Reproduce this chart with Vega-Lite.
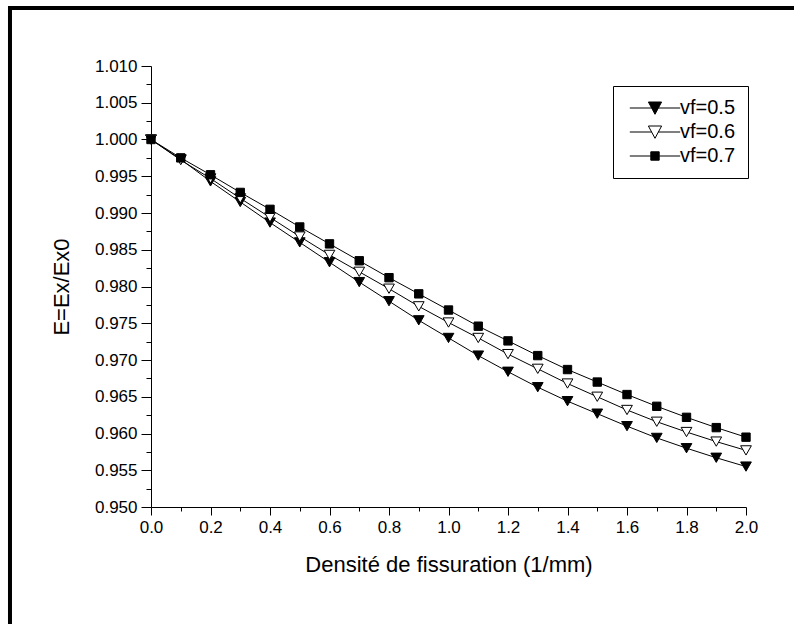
{
  "$schema": "https://vega.github.io/schema/vega-lite/v6.json",
  "autosize": "none",
  "width": 595,
  "height": 441,
  "padding": {"left": 151, "top": 66, "right": 48, "bottom": 117},
  "background": "white",
  "config": {
    "view": {"stroke": null},
    "font": "Liberation Sans",
    "legend": {
      "title": null,
      "strokeColor": "black",
      "fillColor": "white",
      "padding": 12,
      "rowPadding": 4,
      "symbolSize": 144,
      "symbolOffset": 20,
      "symbolStrokeWidth": 1,
      "symbolOpacity": 1,
      "labelOffset": 15,
      "labelFontSize": 20,
      "labelColor": "black",
      "labelFont": "Liberation Sans"
    }
  },
  "datasets": {
    "curves": [
      {"d": 0.0, "E": 1.0000, "s": "vf=0.5"},
      {"d": 0.1, "E": 0.9973, "s": "vf=0.5"},
      {"d": 0.2, "E": 0.9943, "s": "vf=0.5"},
      {"d": 0.3, "E": 0.9915, "s": "vf=0.5"},
      {"d": 0.4, "E": 0.9887, "s": "vf=0.5"},
      {"d": 0.5, "E": 0.9860, "s": "vf=0.5"},
      {"d": 0.6, "E": 0.9833, "s": "vf=0.5"},
      {"d": 0.7, "E": 0.9806, "s": "vf=0.5"},
      {"d": 0.8, "E": 0.9780, "s": "vf=0.5"},
      {"d": 0.9, "E": 0.9754, "s": "vf=0.5"},
      {"d": 1.0, "E": 0.9730, "s": "vf=0.5"},
      {"d": 1.1, "E": 0.9706, "s": "vf=0.5"},
      {"d": 1.2, "E": 0.9684, "s": "vf=0.5"},
      {"d": 1.3, "E": 0.9663, "s": "vf=0.5"},
      {"d": 1.4, "E": 0.9644, "s": "vf=0.5"},
      {"d": 1.5, "E": 0.9627, "s": "vf=0.5"},
      {"d": 1.6, "E": 0.9610, "s": "vf=0.5"},
      {"d": 1.7, "E": 0.9594, "s": "vf=0.5"},
      {"d": 1.8, "E": 0.9580, "s": "vf=0.5"},
      {"d": 1.9, "E": 0.9567, "s": "vf=0.5"},
      {"d": 2.0, "E": 0.9555, "s": "vf=0.5"},
      {"d": 0.0, "E": 1.0000, "s": "vf=0.6"},
      {"d": 0.1, "E": 0.9972, "s": "vf=0.6"},
      {"d": 0.2, "E": 0.9947, "s": "vf=0.6"},
      {"d": 0.3, "E": 0.9920, "s": "vf=0.6"},
      {"d": 0.4, "E": 0.9894, "s": "vf=0.6"},
      {"d": 0.5, "E": 0.9868, "s": "vf=0.6"},
      {"d": 0.6, "E": 0.9843, "s": "vf=0.6"},
      {"d": 0.7, "E": 0.9820, "s": "vf=0.6"},
      {"d": 0.8, "E": 0.9797, "s": "vf=0.6"},
      {"d": 0.9, "E": 0.9773, "s": "vf=0.6"},
      {"d": 1.0, "E": 0.9751, "s": "vf=0.6"},
      {"d": 1.1, "E": 0.9730, "s": "vf=0.6"},
      {"d": 1.2, "E": 0.9708, "s": "vf=0.6"},
      {"d": 1.3, "E": 0.9688, "s": "vf=0.6"},
      {"d": 1.4, "E": 0.9668, "s": "vf=0.6"},
      {"d": 1.5, "E": 0.9650, "s": "vf=0.6"},
      {"d": 1.6, "E": 0.9632, "s": "vf=0.6"},
      {"d": 1.7, "E": 0.9616, "s": "vf=0.6"},
      {"d": 1.8, "E": 0.9602, "s": "vf=0.6"},
      {"d": 1.9, "E": 0.9589, "s": "vf=0.6"},
      {"d": 2.0, "E": 0.9577, "s": "vf=0.6"},
      {"d": 0.0, "E": 1.0000, "s": "vf=0.7"},
      {"d": 0.1, "E": 0.9975, "s": "vf=0.7"},
      {"d": 0.2, "E": 0.9952, "s": "vf=0.7"},
      {"d": 0.3, "E": 0.9928, "s": "vf=0.7"},
      {"d": 0.4, "E": 0.9905, "s": "vf=0.7"},
      {"d": 0.5, "E": 0.9881, "s": "vf=0.7"},
      {"d": 0.6, "E": 0.9858, "s": "vf=0.7"},
      {"d": 0.7, "E": 0.9835, "s": "vf=0.7"},
      {"d": 0.8, "E": 0.9812, "s": "vf=0.7"},
      {"d": 0.9, "E": 0.9790, "s": "vf=0.7"},
      {"d": 1.0, "E": 0.9768, "s": "vf=0.7"},
      {"d": 1.1, "E": 0.9746, "s": "vf=0.7"},
      {"d": 1.2, "E": 0.9726, "s": "vf=0.7"},
      {"d": 1.3, "E": 0.9706, "s": "vf=0.7"},
      {"d": 1.4, "E": 0.9687, "s": "vf=0.7"},
      {"d": 1.5, "E": 0.9670, "s": "vf=0.7"},
      {"d": 1.6, "E": 0.9653, "s": "vf=0.7"},
      {"d": 1.7, "E": 0.9637, "s": "vf=0.7"},
      {"d": 1.8, "E": 0.9622, "s": "vf=0.7"},
      {"d": 1.9, "E": 0.9608, "s": "vf=0.7"},
      {"d": 2.0, "E": 0.9595, "s": "vf=0.7"}
    ],
    "frame": [{"id": 1}]
  },
  "resolve": {"scale": {"x": "independent", "y": "independent"}},
  "layer": [
    {
      "data": {"name": "curves"},
      "encoding": {
        "x": {
          "field": "d", "type": "quantitative",
          "scale": {"domain": [0, 2], "nice": false, "zero": false},
          "axis": {
            "title": "Densité de fissuration (1/mm)",
            "values": [0, 0.1, 0.2, 0.3, 0.4, 0.5, 0.6, 0.7, 0.8, 0.9, 1.0, 1.1, 1.2, 1.3, 1.4, 1.5, 1.6, 1.7, 1.8, 1.9, 2.0],
            "labelExpr": "abs(datum.value*5 - round(datum.value*5)) < 0.01 ? format(datum.value, '.1f') : ''",
            "tickSize": {"condition": {"test": "abs(datum.value*5 - round(datum.value*5)) < 0.01", "value": 8}, "value": 4},
            "labelOverlap": false,
            "labelFlush": false,
            "grid": false,
            "domainColor": "black",
            "tickColor": "black",
            "labelColor": "black",
            "labelFontSize": 17,
            "labelPadding": 4,
            "titleFontSize": 22,
            "titleFontWeight": "normal",
            "titleColor": "black",
            "titlePadding": 19
          }
        },
        "y": {
          "field": "E", "type": "quantitative",
          "scale": {"domain": [0.95, 1.01], "nice": false, "zero": false},
          "axis": {
            "title": "E=Ex/Ex0",
            "values": [0.95, 0.9525, 0.955, 0.9575, 0.96, 0.9625, 0.965, 0.9675, 0.97, 0.9725, 0.975, 0.9775, 0.98, 0.9825, 0.985, 0.9875, 0.99, 0.9925, 0.995, 0.9975, 1.0, 1.0025, 1.005, 1.0075, 1.01],
            "labelExpr": "abs(datum.value*200 - round(datum.value*200)) < 0.01 ? format(datum.value, '.3f') : ''",
            "tickSize": {"condition": {"test": "abs(datum.value*200 - round(datum.value*200)) < 0.01", "value": 10}, "value": 5},
            "labelOverlap": false,
            "labelFlush": false,
            "grid": false,
            "domainColor": "black",
            "tickColor": "black",
            "labelColor": "black",
            "labelFontSize": 17,
            "labelPadding": 4,
            "titleFontSize": 22,
            "titleFontWeight": "normal",
            "titleColor": "black",
            "titlePadding": 21
          }
        }
      },
      "layer": [
        {
          "mark": {"type": "line", "color": "black", "strokeWidth": 1},
          "encoding": {"detail": {"field": "s", "type": "nominal"}}
        },
        {
          "mark": {"type": "point", "filled": true, "stroke": "black", "strokeWidth": 1, "opacity": 1},
          "encoding": {
            "shape": {"condition": {"test": "datum.s === 'vf=0.7'", "value": "square"}, "value": "triangle-down"},
            "fill": {"condition": {"test": "datum.s === 'vf=0.6'", "value": "white"}, "value": "black"},
            "size": {"condition": {"test": "datum.s === 'vf=0.7'", "value": 70}, "value": 115}
          }
        },
        {
          "transform": [{"filter": "datum.d > 100"}],
          "mark": {"type": "point", "filled": true, "strokeWidth": 1, "opacity": 1},
          "encoding": {
            "shape": {
              "field": "s", "type": "nominal",
              "scale": {
                "domain": ["vf=0.5", "vf=0.6", "vf=0.7"],
                "range": [
                  "M-4.2,0H-0.55M0.55,0H4.2M0,1.05L-1.1,-1L1.1,-1Z",
                  "M-4.2,0H-0.55M0.55,0H4.2M0,1.05L-1.1,-1L1.1,-1Z",
                  "M-4.2,0H-0.7M0.7,0H4.2M-0.7,-0.7H0.7V0.7H-0.7Z"
                ]
              },
              "legend": {"orient": "none", "legendX": 462, "legendY": 20}
            },
            "fill": {
              "field": "s", "type": "nominal",
              "scale": {"domain": ["vf=0.5", "vf=0.6", "vf=0.7"], "range": ["black", "white", "black"]},
              "legend": {"orient": "none", "legendX": 462, "legendY": 20}
            },
            "stroke": {
              "field": "s", "type": "nominal",
              "scale": {"domain": ["vf=0.5", "vf=0.6", "vf=0.7"], "range": ["black", "black", "black"]},
              "legend": {"orient": "none", "legendX": 462, "legendY": 20}
            }
          }
        }
      ]
    },
    {
      "data": {"name": "frame"},
      "mark": {"type": "rect", "filled": false, "fill": null, "stroke": "black", "strokeWidth": 4, "clip": false},
      "encoding": {
        "x": {"datum": -0.474, "type": "quantitative", "axis": null, "scale": {"domain": [0, 2], "nice": false, "zero": false}},
        "x2": {"datum": 2.25},
        "y": {"datum": 1.0179, "type": "quantitative", "axis": null, "scale": {"domain": [0.95, 1.01], "nice": false, "zero": false}},
        "y2": {"datum": 0.93}
      }
    }
  ]
}
